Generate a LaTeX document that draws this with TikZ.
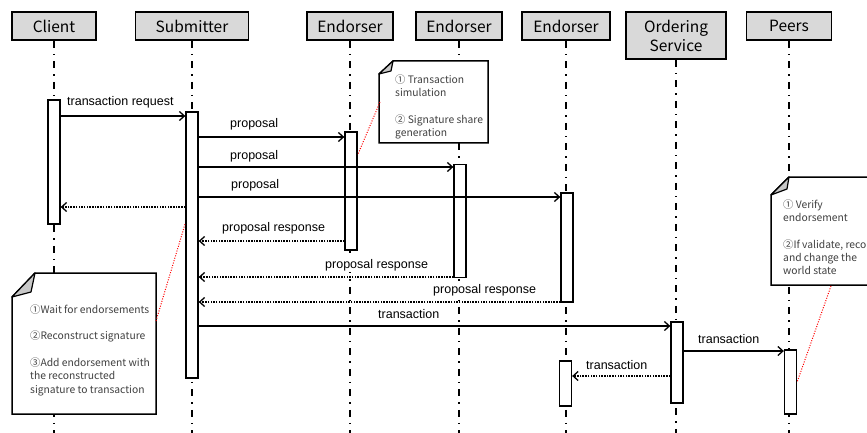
\documentclass[tikz,border=0pt]{standalone}
\usepackage{fontspec}
\setmainfont{Liberation Sans}
\newfontfamily\cjk{Noto Sans CJK SC}
\usetikzlibrary{arrows.meta}
\definecolor{headfill}{HTML}{D9D9D9}
\definecolor{foldfill}{HTML}{C8C8C8}
\definecolor{notegray}{HTML}{404040}
\newcommand{\firstln}{\rule{0pt}{10pt}}
\begin{document}
\begin{tikzpicture}[x=1pt,y=-1pt,
  head/.style={draw,line width=1.8pt,fill=headfill,font=\cjk\fontsize{15.5}{19}\selectfont,inner sep=0pt,minimum height=28pt,align=center},
  act/.style={draw,line width=1.3pt,fill=white,minimum width=12pt,inner sep=0pt},
  life/.style={line width=1.8pt,dash pattern=on 7pt off 6pt on 1.5pt off 6pt},
  msg/.style={line width=1.3pt,-{Straight Barb[length=5pt,width=9pt,line width=1.3pt]}},
  ret/.style={msg,dash pattern=on 1.5pt off 1.2pt},
  lbl/.style={font=\fontsize{12.5}{14}\selectfont,inner sep=1pt,fill=white,anchor=base west},
  notebox/.style={draw,line width=1.5pt,fill=white,line join=miter},
  fold/.style={draw,line width=1.2pt,fill=foldfill,line join=round},
  notetext/.style={font=\cjk\fontsize{10.3}{13.3}\selectfont,text=notegray,align=left,anchor=north west,inner sep=0pt},
  redline/.style={red,line width=1pt,dash pattern=on 1pt off 1.5pt}
]
\useasboundingbox (0,0) rectangle (867,433);
\clip (0,0) rectangle (867,433);

% headers
\node[head,minimum width=84pt] (client) at (54,26) {Client};
\node[head,minimum width=113pt] (sub) at (192,26) {Submitter};
\node[head,minimum width=86pt] (end1) at (350,26) {Endorser};
\node[head,minimum width=86pt] (end2) at (459,26) {Endorser};
\node[head,minimum width=88pt] (end3) at (566,26) {Endorser};
\node[head,minimum width=100pt,minimum height=47pt] (ord) at (676,35.5) {Ordering\\Service};
\node[head,minimum width=85pt] (peers) at (789,26) {Peers};

% lifelines
\foreach \n in {client,sub,end1,end2,end3,ord,peers}
  \draw[life] (\n.south) -- (\n.south |- 0,440);

% notes
\coordinate (n1tl) at (379,61); \coordinate (n1br) at (488,143);
\draw[notebox] (393,61) -- (n1br |- n1tl) -- (n1br) -- (n1tl |- n1br) -- (379,74) -- cycle;
\draw[fold] (379,74) -- (393,61) -- (391,71) -- cycle;
\node[notetext] (n1t) at (395,73) {\firstln① Transaction\\simulation\\[13.3pt]② Signature share\\generation};

\coordinate (n2tl) at (12,273); \coordinate (n2br) at (156,414);
\draw[notebox] (35,273) -- (n2br |- n2tl) -- (n2br) -- (n2tl |- n2br) -- (12,297) -- cycle;
\draw[fold] (12,297) -- (35,273) -- (31,292) -- cycle;
\node[notetext] (n2t) at (30,303) {\firstln①Wait for endorsements\\[13.3pt]②Reconstruct signature\\[13.3pt]③Add endorsement with\\the reconstructed\\signature to transaction};

\coordinate (n3tl) at (771,177); \coordinate (n3br) at (885,285);
\draw[notebox] (789,177) -- (n3br |- n3tl) -- (n3br) -- (n3tl |- n3br) -- (771,195) -- cycle;
\draw[fold] (771,195) -- (789,177) -- (787,189) -- cycle;
\node[notetext] (n3t) at (783,198) {\firstln① Verify\\endorsement\\[13.3pt]②If validate, record\\and change the\\world state};

% activation boxes
\node[act,minimum height=124pt] (ca) at (client |- 0,162) {};
\node[act,minimum height=266pt] (sa) at (sub |- 0,245) {};
\node[act,minimum height=118pt] (e1a) at (351,191) {};
\node[act,minimum height=113pt] (e2a) at (460,221) {};
\node[act,minimum height=109pt] (e3a) at (567,247.5) {};
\node[act,minimum height=45pt] (e3b) at (565.5,383.5) {};
\node[act,minimum height=81pt] (oa) at (677,362.5) {};
\node[act,minimum height=64pt] (pa) at (790.5,382) {};

% red note connectors
\coordinate (r1) at (380,102);
\draw[redline] (r1) -- (e1a.east |- 0,155);
\coordinate (r2) at (156,321);
\draw[redline] (r2) -- (sa.west |- 0,223);
\coordinate (r3) at (831,286);
\draw[redline] (r3) -- (pa.east |- 0,382);

% messages
\draw[msg] (ca.east |- 0,116) -- (sa.west |- 0,116);
\node[lbl] at (66,106) {transaction request};
\draw[msg] (sa.east |- 0,137) -- (e1a.west |- 0,137);
\node[lbl] at (229,128) {proposal};
\draw[msg] (sa.east |- 0,167) -- (e2a.west |- 0,167);
\node[lbl] at (229,159) {proposal};
\draw[msg] (sa.east |- 0,197) -- (e3a.west |- 0,197);
\node[lbl] at (230,188) {proposal};
\draw[ret] (sa.west |- 0,207) -- (ca.east |- 0,207);
\draw[ret] (e1a.west |- 0,241) -- (sa.east |- 0,241);
\node[lbl] at (221,231) {proposal response};
\draw[ret] (e2a.west |- 0,277) -- (sa.east |- 0,277);
\node[lbl] at (324,268) {proposal response};
\draw[ret] (e3a.west |- 0,302) -- (sa.east |- 0,302);
\node[lbl] at (432,293) {proposal response};
\draw[msg] (sa.east |- 0,326) -- (oa.west |- 0,326);
\node[lbl] at (377,318) {transaction};
\draw[msg] (oa.east |- 0,351) -- (pa.west |- 0,351);
\node[lbl] at (697,343) {transaction};
\draw[ret] (oa.west |- 0,376) -- (e3b.east |- 0,376);
\node[lbl] at (585,369) {transaction};
\end{tikzpicture}
\end{document}
